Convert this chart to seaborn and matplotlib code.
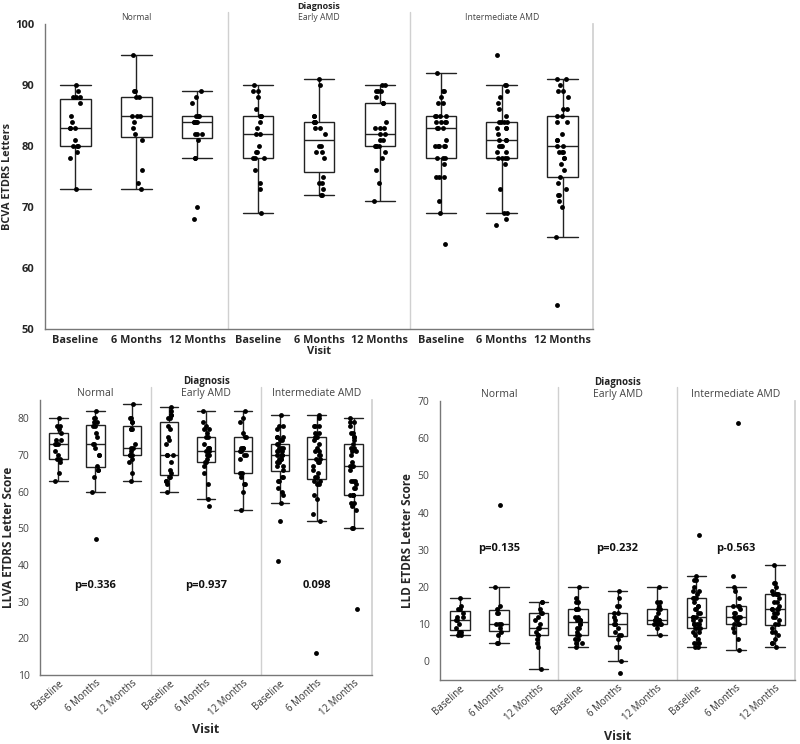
import numpy as np
import pandas as pd
import matplotlib
matplotlib.use("Agg")
import matplotlib.pyplot as plt
from matplotlib.ticker import MultipleLocator
import seaborn as sns

# ---- categories ----
DIAGNOSES = ["Normal", "Early AMD", "Intermediate AMD"]
VISITS = ["Baseline", "6 Months", "12 Months"]

# ---- BCVA ETDRS letters (top panel) ----
bcva_normal_base = [90, 89, 88, 88, 88, 87, 85, 84, 83, 83, 83, 81, 80, 80, 80, 79, 78, 73]
bcva_normal_6m = [95, 89, 89, 88, 88, 85, 85, 85, 84, 83, 82, 81, 76, 74, 73]
bcva_normal_12m = [89, 88, 87, 85, 85, 85, 84, 84, 84, 84, 82, 82, 82, 81, 78, 78, 70, 68]
bcva_early_base = [90, 89, 89, 88, 86, 85, 85, 85, 84, 83, 82, 82, 80, 79, 79, 78, 78, 78,
                   76, 74, 73, 69]
bcva_early_6m = [91, 90, 85, 85, 84, 84, 84, 84, 83, 83, 82, 80, 80, 79, 79, 78, 75, 74, 74,
                 73, 72, 72]
bcva_early_12m = [90, 90, 89, 89, 89, 88, 87, 87, 84, 83, 83, 83, 82, 82, 81, 81, 80, 80, 80,
                  80, 79, 78, 76, 74, 71]
bcva_inter_base = [92, 89, 89, 88, 87, 87, 85, 85, 85, 85, 84, 84, 84, 84, 83, 83, 83, 81,
                   80, 80, 80, 80, 80, 78, 78, 78, 77, 75, 75, 75, 71, 69, 64]
bcva_inter_6m = [95, 90, 90, 89, 88, 87, 86, 85, 84, 84, 84, 84, 83, 83, 83, 82, 81, 81, 81,
                 80, 80, 80, 79, 79, 78, 78, 78, 78, 77, 73, 69, 69, 68, 67]
bcva_inter_12m = [91, 91, 90, 89, 89, 88, 86, 86, 85, 85, 84, 84, 82, 81, 81, 80, 80, 79, 79,
                  79, 78, 78, 77, 76, 74, 75, 73, 72, 72, 71, 70, 65, 54]

# ---- LLVA ETDRS letter score (bottom left) ----
llva_normal_base = [80, 78, 78, 77, 76, 74, 74, 73, 73, 73, 71, 70, 69, 69, 68, 65, 63]
llva_normal_6m = [82, 80, 80, 79, 79, 78, 78, 76, 75, 73, 73, 72, 70, 70, 67, 66, 66, 64, 60, 47]
llva_normal_12m = [84, 80, 80, 79, 79, 77, 77, 77, 73, 72, 72, 71, 70, 70, 70, 69, 68, 65, 63]
llva_early_base = [83, 82, 81, 81, 80, 80, 78, 77, 75, 74, 73, 70, 70, 70, 68, 66, 65, 64, 64,
                   63, 63, 62, 60]
llva_early_6m = [82, 79, 78, 77, 77, 76, 75, 75, 73, 72, 72, 72, 71, 71, 70, 70, 70, 69, 68,
                 68, 67, 65, 62, 58, 56]
llva_early_12m = [82, 80, 79, 76, 75, 75, 72, 72, 72, 71, 71, 70, 70, 69, 65, 65, 64, 62, 62,
                  60, 55]
llva_inter_base = [81, 78, 78, 77, 75, 75, 75, 74, 74, 73, 73, 72, 72, 72, 71, 71, 71, 70, 70,
                   70, 70, 69, 69, 69, 68, 68, 68, 67, 67, 66, 64, 64, 63, 63, 61, 60, 59, 57,
                   52, 41]
llva_inter_6m = [81, 80, 78, 78, 78, 76, 76, 75, 75, 75, 74, 73, 72, 71, 71, 70, 70, 69, 69,
                 68, 68, 67, 66, 65, 64, 64, 63, 63, 62, 62, 59, 58, 54, 52, 16]
llva_inter_12m = [80, 79, 79, 78, 76, 76, 75, 75, 74, 73, 72, 72, 71, 71, 70, 68, 67, 67, 67,
                  66, 63, 63, 63, 62, 61, 61, 59, 59, 59, 59, 57, 57, 56, 55, 50, 50, 28]

# ---- LLD ETDRS letter score (bottom right) ----
lld_normal_base = [17, 15, 14, 14, 13, 12, 12, 11, 11, 10, 9, 8, 8, 7, 7]
lld_normal_6m = [42, 20, 15, 14, 13, 13, 10, 10, 10, 9, 8, 7, 5, 5]
lld_normal_12m = [16, 16, 14, 13, 13, 12, 11, 10, 9, 9, 8, 7, 7, 6, 5, 4, -2]
lld_early_base = [20, 17, 16, 16, 14, 14, 14, 12, 12, 11, 11, 11, 10, 10, 9, 9, 8, 7, 7, 6, 6,
                  5, 5, 4]
lld_early_6m = [19, 17, 15, 15, 13, 13, 12, 11, 10, 10, 10, 9, 8, 7, 7, 6, 4, 4, 0, -3]
lld_early_12m = [20, 16, 16, 15, 14, 14, 13, 12, 11, 11, 11, 11, 11, 10, 10, 10, 10, 9, 7]
lld_inter_base = [34, 23, 22, 22, 20, 19, 19, 18, 17, 17, 17, 16, 15, 15, 14, 14, 13, 13, 12,
                  12, 12, 11, 11, 10, 10, 10, 10, 9, 9, 9, 8, 8, 7, 6, 5, 5, 5, 4, 4]
lld_inter_6m = [64, 23, 20, 19, 17, 15, 15, 15, 14, 13, 13, 12, 12, 12, 11, 11, 10, 10, 10, 9,
                8, 6, 3]
lld_inter_12m = [26, 21, 21, 20, 19, 18, 18, 18, 18, 17, 16, 16, 15, 14, 14, 14, 14, 13, 13, 12,
                 12, 11, 10, 10, 9, 8, 8, 7, 6, 5, 5, 4]

BCVA = [[bcva_normal_base, bcva_normal_6m, bcva_normal_12m],
        [bcva_early_base, bcva_early_6m, bcva_early_12m],
        [bcva_inter_base, bcva_inter_6m, bcva_inter_12m]]
LLVA = [[llva_normal_base, llva_normal_6m, llva_normal_12m],
        [llva_early_base, llva_early_6m, llva_early_12m],
        [llva_inter_base, llva_inter_6m, llva_inter_12m]]
LLD = [[lld_normal_base, lld_normal_6m, lld_normal_12m],
       [lld_early_base, lld_early_6m, lld_early_12m],
       [lld_inter_base, lld_inter_6m, lld_inter_12m]]

llva_pvals = ["p=0.336", "p=0.937", "0.098"]
lld_pvals = ["p=0.135", "p=0.232", "p-0.563"]

ORDER = [f"{d}|{v}" for d in DIAGNOSES for v in VISITS]


def long_table(groups):
    rows = []
    for diag, per_visit in zip(DIAGNOSES, groups):
        for visit, vals in zip(VISITS, per_visit):
            for v in vals:
                rows.append((f"{diag}|{visit}", v))
    return pd.DataFrame(rows, columns=["slot", "value"])


def draw_panel(ax, groups, ylim, ylabel, top_style, head_y, div_top, label_xy):
    df = long_table(groups)
    sns.boxplot(data=df, x="slot", y="value", order=ORDER, ax=ax, width=0.5,
                color="white", linecolor="#222222", linewidth=1.0,
                showfliers=False, whis=1.5, capwidths=0.5)
    np.random.seed(3)
    sns.stripplot(data=df, x="slot", y="value", order=ORDER, ax=ax, color="black",
                  size=3.5, jitter=0.1, linewidth=0, zorder=3)

    ax.set_xlim(-0.5, 8.5)
    ax.set_ylim(*ylim)
    ax.yaxis.set_major_locator(MultipleLocator(10))
    ax.yaxis.set_minor_locator(MultipleLocator(5))
    ax.set_xticks(range(9))
    ax.set_xticklabels(VISITS * 3)

    for side in ["left", "bottom"]:
        ax.spines[side].set_color("#777777")
        ax.spines[side].set_linewidth(1.0)
    ax.spines["right"].set_color("#d0d0d0")
    ax.spines["top"].set_visible(False)

    # facet dividers reaching up into the header
    for xd in [2.5, 5.5]:
        ax.plot([xd, xd], [0, div_top], transform=ax.get_xaxis_transform(),
                color="#d0d0d0", lw=1.0, clip_on=False)

    ax.text(0.5, head_y[0], "Diagnosis", transform=ax.transAxes, ha="center",
            va="center", fontsize=head_y[2], fontweight="bold", color="#222222")
    for i, d in enumerate(DIAGNOSES):
        ax.text(1 + 3 * i, head_y[1], d, transform=ax.get_xaxis_transform(),
                ha="center", va="center", fontsize=head_y[3], color="#444444")

    ax.tick_params(axis="x", length=0)
    ax.tick_params(axis="y", which="major", length=4, color="#777777")
    ax.tick_params(axis="y", which="minor", length=2.5, color="#777777")

    if top_style:
        ax.tick_params(axis="x", labelsize=7.8, pad=4)
        ax.tick_params(axis="y", labelsize=8)
        for lab in ax.get_xticklabels() + ax.get_yticklabels():
            lab.set_fontweight("bold")
        ax.set_xlabel("Visit", fontsize=8, fontweight="bold")
        ax.set_ylabel(ylabel, fontsize=7.8, fontweight="bold")
    else:
        ax.tick_params(axis="x", labelsize=7, labelcolor="#333333", pad=2)
        ax.tick_params(axis="y", labelsize=7.5, labelcolor="#444444")
        plt.setp(ax.get_xticklabels(), rotation=42, ha="right", rotation_mode="anchor")
        ax.set_xlabel("Visit", fontsize=9, fontweight="bold")
        ax.set_ylabel(ylabel, fontsize=8.5, fontweight="bold")
    ax.xaxis.set_label_coords(0.5, label_xy[1])
    ax.yaxis.set_label_coords(label_xy[0], 0.5)


sns.set_theme(style="white")
plt.rcParams["font.family"] = ["Open Sans", "DejaVu Sans"]

fig = plt.figure(figsize=(8, 7.44), dpi=100)
fig.patch.set_facecolor("white")

ax_top = fig.add_axes([45 / 800, 1 - 329 / 744, 548 / 800, 305 / 744])
ax_bl = fig.add_axes([40 / 800, 1 - 675 / 744, 332 / 800, 275 / 744])
ax_br = fig.add_axes([440 / 800, 1 - 680 / 744, 355 / 800, 279 / 744])

draw_panel(ax_top, BCVA, (50, 100), "BCVA ETDRS Letters", True,
           (1.056, 1.02, 6.5, 6.2), 1.04, (-0.058, -0.056))
draw_panel(ax_bl, LLVA, (10, 85), "LLVA ETDRS Letter Score", False,
           (1.066, 1.025, 7, 7.5), 1.047, (-0.076, -0.175))
draw_panel(ax_br, LLD, (-5, 70), "LLD ETDRS Letter Score", False,
           (1.068, 1.025, 7, 7.5), 1.05, (-0.072, -0.18))

for i, p in enumerate(llva_pvals):
    ax_bl.text(1 + 3 * i, 34.5, p, ha="center", va="center", fontsize=8,
               fontweight="bold", color="#111111")
for i, p in enumerate(lld_pvals):
    ax_br.text(1 + 3 * i, 30.3, p, ha="center", va="center", fontsize=8,
               fontweight="bold", color="#111111")

fig.savefig("out.png", dpi=100, facecolor="white")
